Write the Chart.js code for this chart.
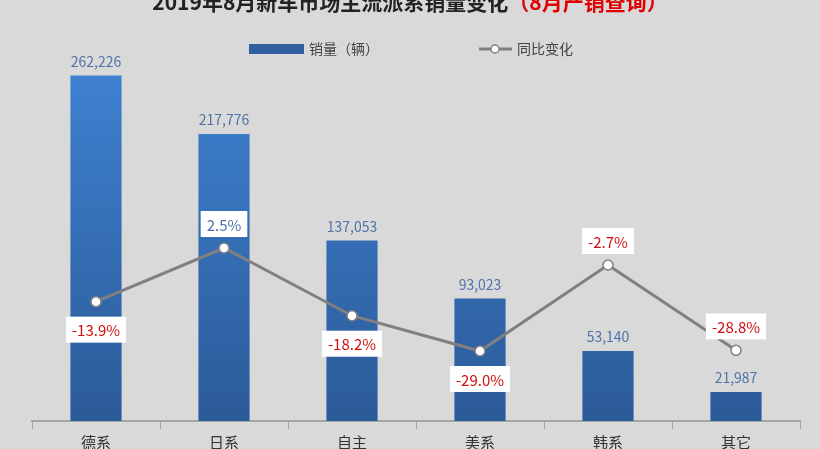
<!DOCTYPE html>
<html lang="zh">
<head>
<meta charset="UTF-8" />
<script src="https://cdn.jsdelivr.net/npm/chart.js"></script>
<style>
  * { margin: 0; padding: 0; box-sizing: border-box; }
  html, body { width: 820px; height: 449px; overflow: hidden; background: #d9d9d9; }
  #wrap { width: 820px; height: 455px; position: relative; }
</style>
</head>
<body>
<div id="wrap"><canvas id="c"></canvas></div>
<script>
const categories = ['德系', '日系', '自主', '美系', '韩系', '其它'];
const sales = [262226, 217776, 137053, 93023, 53140, 21987];
const yoy = [-13.9, 2.5, -18.2, -29.0, -2.7, -28.8];
const yoyLabelSide = ['below', 'above', 'below', 'below', 'above', 'above'];

const FONT = '"Noto Sans CJK SC", "Noto Sans", sans-serif';

const overlay = {
  id: 'overlay',
  afterDatasetsDraw(chart) {
    const ctx = chart.ctx;
    ctx.save();
    // title
    ctx.font = 'bold 21px ' + FONT;
    ctx.textBaseline = 'middle';
    const t1 = '2019年8月新车市场主流派系销量变化', t2 = '（8月产销查询）';
    const w1 = ctx.measureText(t1).width, w2 = ctx.measureText(t2).width;
    let x = 410 - (w1 + w2) / 2;
    ctx.fillStyle = '#222';
    ctx.fillText(t1, x, 2);
    ctx.fillStyle = '#e00000';
    ctx.fillText(t2, x + w1, 2);

    // legend
    ctx.font = '14px ' + FONT;
    ctx.fillStyle = '#2f5f9f';
    ctx.fillRect(249, 44, 55, 10);
    ctx.fillStyle = '#444';
    ctx.fillText('销量（辆）', 309, 49);
    ctx.strokeStyle = '#808080'; ctx.lineWidth = 3;
    ctx.beginPath(); ctx.moveTo(479, 49); ctx.lineTo(512, 49); ctx.stroke();
    ctx.beginPath(); ctx.arc(495, 49, 4, 0, Math.PI * 2);
    ctx.fillStyle = '#fff'; ctx.fill(); ctx.lineWidth = 1.5; ctx.stroke();
    ctx.fillStyle = '#444';
    ctx.fillText('同比变化', 517, 49);

    // bar labels
    ctx.textAlign = 'center';
    ctx.font = '14px ' + FONT;
    ctx.fillStyle = '#4f74a8';
    chart.getDatasetMeta(1).data.forEach((b, i) => {
      ctx.fillText(sales[i].toLocaleString('en-US'), b.x, b.y - 14);
    });

    // line labels
    ctx.font = '15px ' + FONT;
    chart.getDatasetMeta(0).data.forEach((p, i) => {
      const txt = yoy[i].toFixed(1) + '%';
      const w = ctx.measureText(txt).width + 12;
      const cy = yoyLabelSide[i] === 'above' ? p.y - 24 : p.y + 28;
      ctx.fillStyle = '#ffffff';
      ctx.fillRect(p.x - w / 2, cy - 13, w, 26);
      ctx.fillStyle = yoy[i] < 0 ? '#d01010' : '#4f74a8';
      ctx.fillText(txt, p.x, cy + 1);
    });
    ctx.restore();
  }
};

new Chart(document.getElementById('c'), {
  data: {
    labels: categories,
    datasets: [
      {
        type: 'line', label: '同比变化', data: yoy, yAxisID: 'y1', order: 0,
        borderColor: '#808080', borderWidth: 3, pointRadius: 5,
        pointBackgroundColor: '#fff', pointBorderColor: '#808080', pointBorderWidth: 1.5,
        tension: 0
      },
      {
        type: 'bar', label: '销量（辆）', data: sales, yAxisID: 'y', order: 1,
        barPercentage: 0.4, categoryPercentage: 1,
        backgroundColor(ctx) {
          const a = ctx.chart.chartArea;
          if (!a) return '#3570b8';
          const g = ctx.chart.ctx.createLinearGradient(0, a.top, 0, a.bottom);
          g.addColorStop(0, '#3f82d2');
          g.addColorStop(1, '#2b5a98');
          return g;
        }
      }
    ]
  },
  options: {
    responsive: true, maintainAspectRatio: false, animation: false,
    layout: { padding: { top: 60, left: 32, right: 20, bottom: 0 } },
    plugins: { legend: { display: false }, title: { display: false }, tooltip: { enabled: false } },
    scales: {
      x: {
        offset: true,
        grid: { display: true, drawOnChartArea: false, drawTicks: true, tickLength: 8, offset: true, color: '#a6a6a6' },
        border: { color: '#a6a6a6', width: 2 },
        ticks: { color: '#333', font: { size: 15, family: FONT }, padding: 4 }
      },
      y: { display: false, min: 0, max: 274000 },
      y1: { display: false, min: -50.4, max: 60 }
    }
  },
  plugins: [overlay]
});
</script>
</body>
</html>
